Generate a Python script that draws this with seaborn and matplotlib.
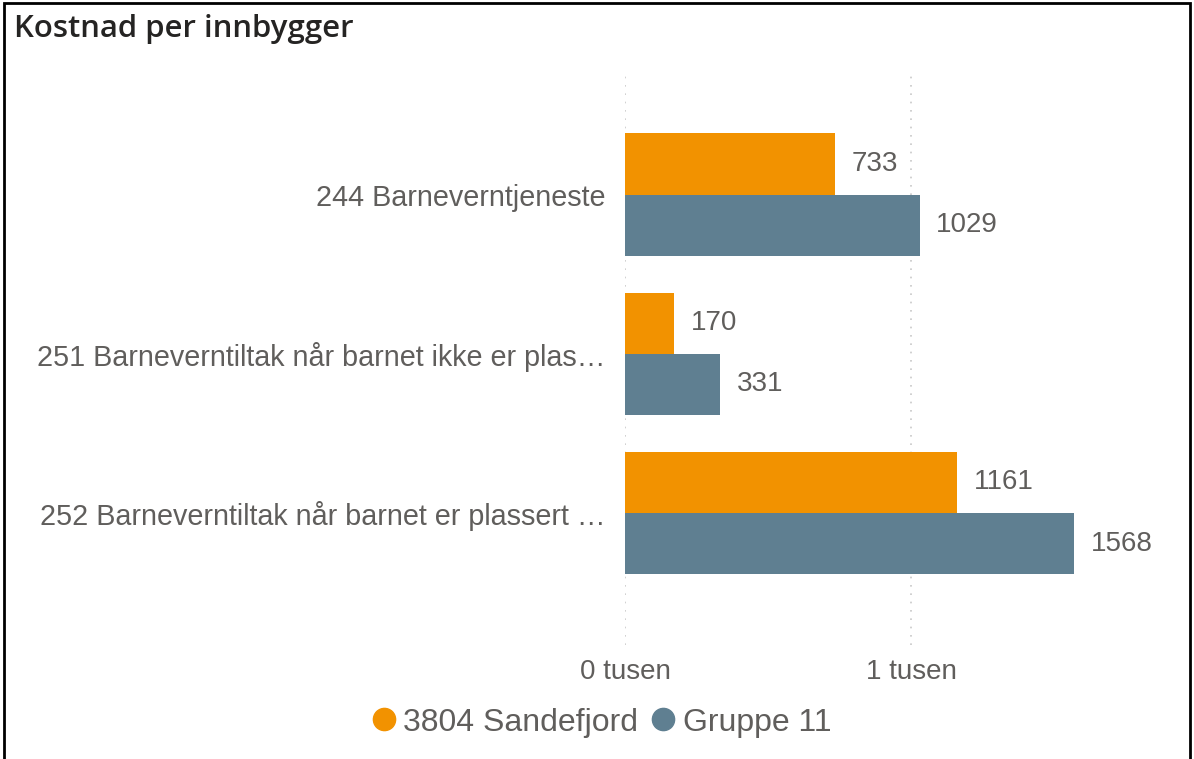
import pandas as pd
import matplotlib.pyplot as plt
import seaborn as sns
from matplotlib.lines import Line2D
from matplotlib.patches import Rectangle

sns.set_style("white")
plt.rcParams['font.family'] = ['Liberation Sans', 'DejaVu Sans']

# Data
categories = [
    "244 Barneverntjeneste",
    "251 Barneverntiltak når barnet ikke er plas…",
    "252 Barneverntiltak når barnet er plassert …",
]
series = ["3804 Sandefjord", "Gruppe 11"]
sandefjord = [733, 170, 1161]
gruppe11 = [1029, 331, 1568]
tick_values = [0, 1000]
tick_labels = ["0 tusen", "1 tusen"]

colors = {"3804 Sandefjord": "#F29200", "Gruppe 11": "#5F7F91"}
text_color = "#605E5C"

df = pd.DataFrame({
    "Kategori": categories * 2,
    "Serie": [series[0]] * 3 + [series[1]] * 3,
    "Verdi": sandefjord + gruppe11,
})

fig = plt.figure(figsize=(11.94, 7.59), dpi=100)
ax = fig.add_axes([0.5235, 0.150, 0.465, 0.755])

sns.barplot(data=df, y="Kategori", x="Verdi", hue="Serie", order=categories,
            hue_order=series, palette=colors, orient="h", width=0.77,
            saturation=1, legend=False, linewidth=0, ax=ax)

for container in ax.containers:
    ax.bar_label(container, fmt='%d', padding=12, fontsize=20, color=text_color)

ax.set_xlim(0, 1940)
ax.set_ylim(2.83, -0.77)
ax.set_xticks(tick_values)
ax.set_xticklabels(tick_labels)
ax.set_xlabel("")
ax.set_ylabel("")
ax.tick_params(axis='x', length=0, labelsize=20, labelcolor=text_color, pad=10)
ax.tick_params(axis='y', length=0, labelsize=20.7, labelcolor=text_color, pad=14)
for s in ax.spines.values():
    s.set_visible(False)
for v in tick_values:
    ax.axvline(v, color="#C8C8C8", linestyle=(0, (1, 4)), linewidth=1.2, zorder=0)

# Title
fig.text(0.012, 0.962, "Kostnad per innbygger", fontsize=22.4, color="#252423",
         ha='left', va='center', fontweight='semibold',
         family=['Open Sans', 'DejaVu Sans'])

# Legend
handles = [Line2D([0], [0], marker='o', linestyle='', markersize=16,
                  markerfacecolor=colors[s], markeredgecolor=colors[s]) for s in series]
leg = fig.legend(handles, series, loc='center', bbox_to_anchor=(0.502, 0.048), ncol=2,
                 frameon=False, fontsize=23, handletextpad=0.1, columnspacing=0.3,
                 handlelength=1.0)
for t in leg.get_texts():
    t.set_color(text_color)

# Frame around visual
fig.patches.append(Rectangle((0.003, -0.01), 0.994, 1.006, transform=fig.transFigure,
                             fill=False, edgecolor='black', linewidth=2))

fig.savefig("out.png", dpi=100)
